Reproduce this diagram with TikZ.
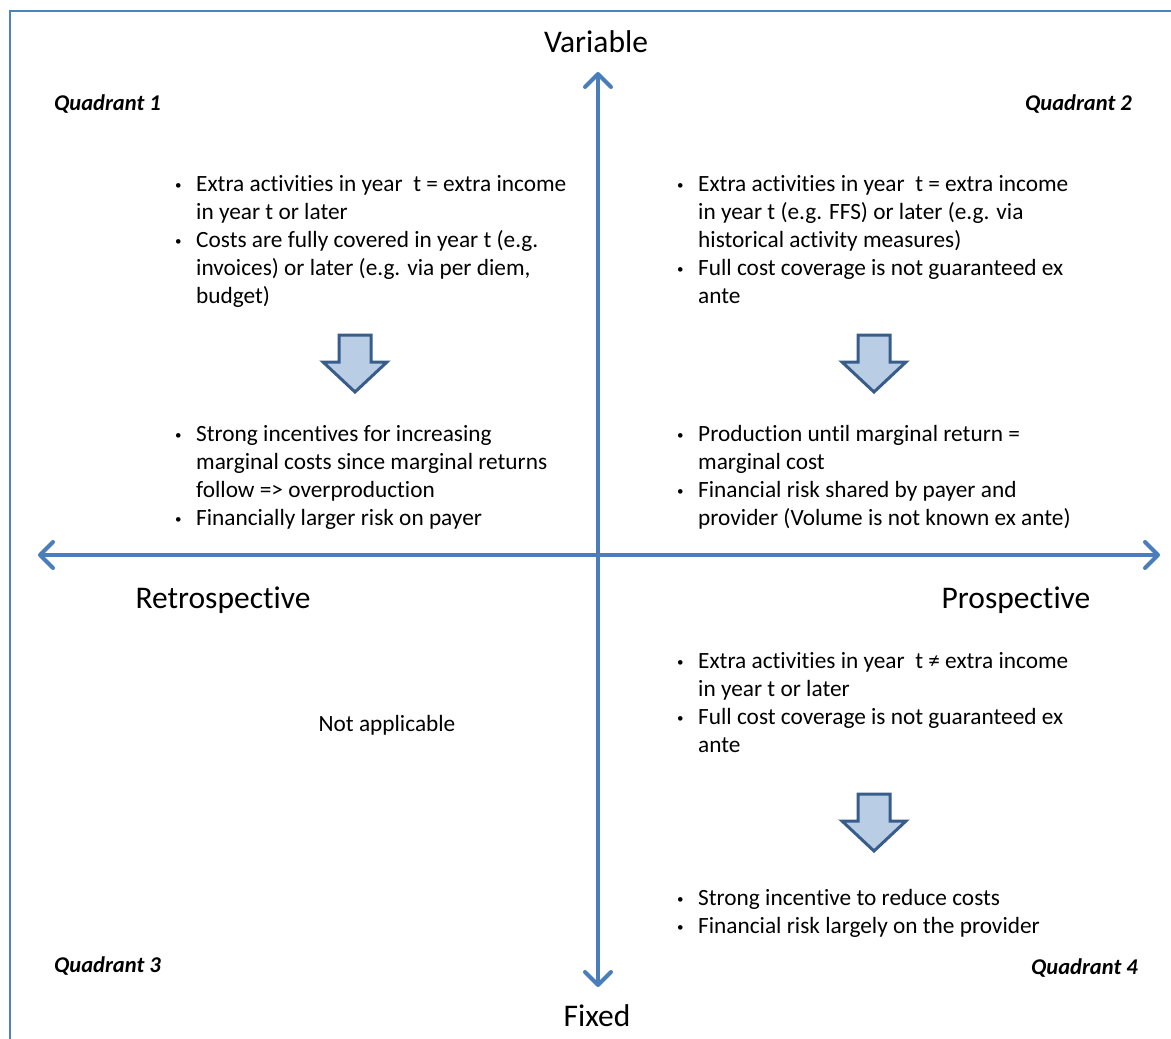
\documentclass[tikz,border=0pt]{standalone}
\usepackage{fontspec}
\setmainfont{Carlito}[Ligatures=NoCommon]
\usetikzlibrary{arrows.meta}
\definecolor{axisblue}{HTML}{4A7EBB}
\definecolor{frameblue}{HTML}{4F81BD}
\definecolor{blkfill}{HTML}{B9CDE5}
\definecolor{blkdraw}{HTML}{385D8A}
\newcommand\bul{\makebox[21pt][l]{\raisebox{1.5pt}{\fontsize{13}{13}\selectfont •}}}
\newcommand\ind{\hspace*{21pt}}
\begin{document}
\begin{tikzpicture}[x=1pt,y=-1pt,
  axis/.style={draw=axisblue, line width=4pt,
    {Straight Barb[length=13pt,width=26pt,round]}-{Straight Barb[length=13pt,width=26pt,round]}},
  frame/.style={draw=frameblue, line width=2.5pt},
  blk/.style={fill=blkfill, draw=blkdraw, line width=3pt, line join=miter},
  txt/.style={anchor=base west, align=left, inner sep=0pt, font=\fontsize{23.3}{28}\selectfont},
  head/.style={anchor=base, inner sep=0pt, font=\fontsize{31.5}{36}\selectfont},
  quad/.style={inner sep=0pt, font=\fontsize{22.5}{26}\selectfont\bfseries\itshape}]
\useasboundingbox (0,0) rectangle (1171,1039);
% frame (continues beyond the picture on the right and bottom)
\draw[frame] (10,1039) -- (10,11) -- (1171,11);
% axes
\coordinate (vtop) at (598,72);
\coordinate (vbot) at (598,987);
\coordinate (hleft) at (38,555);
\coordinate (hright) at (1160,555);
\draw[axis] (vbot) -- (vtop);
\draw[axis] (hleft) -- (hright);
% axis labels
\node[head] (var) at (596,52) {Variable};
\node[head] (fix) at (597,1026) {Fixed};
\node[head] (retro) at (223,608) {Retrospective};
\node[head] (pros) at (1016,608) {Prospective};
% quadrant labels
\node[quad, anchor=base west] (q1) at (54,110) {Quadrant 1};
\node[quad, anchor=base east] (q2) at (1132,110) {Quadrant 2};
\node[quad, anchor=base west] (q3) at (54,972) {Quadrant 3};
\node[quad, anchor=base east] (q4) at (1138,974) {Quadrant 4};
% Quadrant 1 (anchor = baseline of the last line)
\node[txt] (q1a) at (175,303) {\bul Extra activities in year\ \ t = extra income\\
\ind in year t or later\\
\bul Costs are fully covered in year t (e.g.\\
\ind invoices) or later (e.g. via per diem,\\
\ind budget)};
\draw[blk,shift={(355,363)}] (-16,-28) -- (16,-28) -- (16,-1) -- (32,-1) -- (0,29) -- (-32,-1) -- (-16,-1) -- cycle;
\node[txt] (q1b) at (175,525) {\bul Strong incentives for increasing\\
\ind marginal costs since marginal returns\\
\ind follow => overproduction\\
\bul Financially larger risk on payer};
% Quadrant 2
\node[txt] (q2a) at (677,303) {\bul Extra activities in year\ \ t = extra income\\
\ind in year t (e.g. FFS) or later (e.g. via\\
\ind historical activity measures)\\
\bul Full cost coverage is not guaranteed ex\\
\ind ante};
\draw[blk,shift={(874,363)}] (-16,-28) -- (16,-28) -- (16,-1) -- (32,-1) -- (0,29) -- (-32,-1) -- (-16,-1) -- cycle;
\node[txt] (q2b) at (677,525) {\bul Production until marginal return =\\
\ind marginal cost\\
\bul Financial risk shared by payer and\\
\ind provider (Volume is not known ex ante)};
% Quadrant 3
\node[txt, anchor=base] (q3a) at (387,731) {Not applicable};
% Quadrant 4
\node[txt] (q4a) at (677,752) {\bul Extra activities in year\ \ t ≠ extra income\\
\ind in year t or later\\
\bul Full cost coverage is not guaranteed ex\\
\ind ante};
\draw[blk,shift={(874,822)}] (-16,-28) -- (16,-28) -- (16,-1) -- (32,-1) -- (0,29) -- (-32,-1) -- (-16,-1) -- cycle;
\node[txt] (q4b) at (677,933) {\bul Strong incentive to reduce costs\\
\bul Financial risk largely on the provider};
\end{tikzpicture}
\end{document}
